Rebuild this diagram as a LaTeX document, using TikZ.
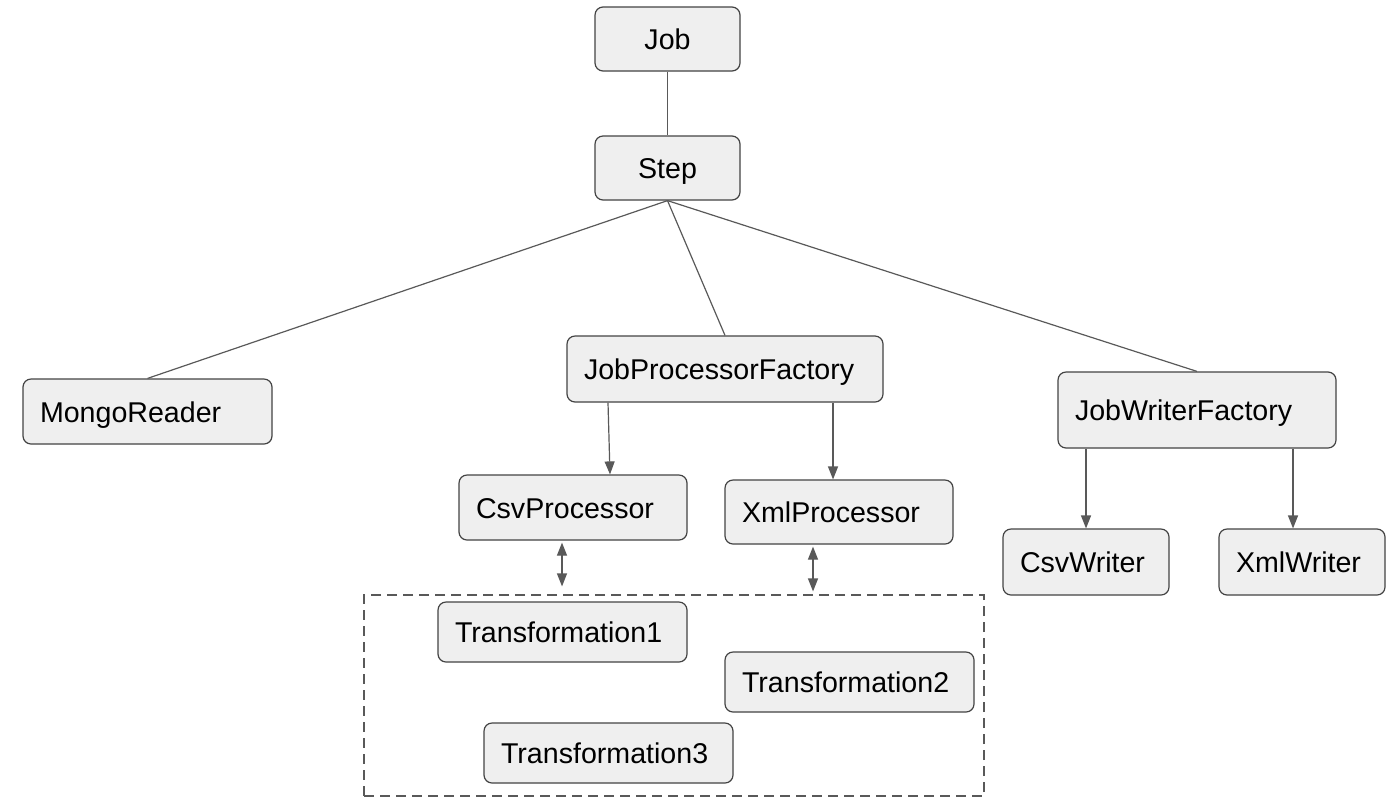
\documentclass[tikz,border=0pt]{standalone}
\usepackage{fontspec}
\setmainfont{Liberation Sans}
\usetikzlibrary{calc,arrows.meta}
\definecolor{boxfill}{HTML}{EFEFEF}
\definecolor{boxline}{HTML}{434343}
\definecolor{linkgray}{HTML}{595959}

\begin{document}
\begin{tikzpicture}[x=0.5pt,y=-0.5pt,>={Triangle[length=6.5pt,width=5pt]},
  box/.style={draw=boxline,fill=boxfill,rounded corners=4pt,line width=0.6pt,inner xsep=8.5pt,inner ysep=0pt,align=left,text height=1.08em,text depth=0pt,font=\fontsize{14.3}{17}\selectfont},
  link/.style={draw=linkgray,line width=0.6pt}]
  \useasboundingbox (0,0) rectangle (1400,810);
  % job and step
  \node[box,align=center,text width=55.5pt,minimum height=32pt] (job) at (667.5,39) {Job};
  \node[box,align=center,text width=55.5pt,minimum height=32pt] (step) at (667.5,168) {Step};
  % reader, processors, writers
  \node[box,text width=107.5pt,minimum height=32.5pt] (mongo) at (147.5,411.5) {MongoReader};
  \node[box,text width=141pt,minimum height=33pt] (jpf) at (725,369) {JobProcessorFactory};
  \node[box,text width=122pt,minimum height=38pt] (jwf) at (1197,410) {JobWriterFactory};
  \node[box,text width=97pt,minimum height=32.5pt] (csvp) at (573,507.5) {CsvProcessor};
  \node[box,text width=97pt,minimum height=32pt] (xmlp) at (839,512) {XmlProcessor};
  \node[box,text width=66pt,minimum height=33pt] (csvw) at (1086,562) {CsvWriter};
  \node[box,text width=66pt,minimum height=33pt] (xmlw) at (1302,562) {XmlWriter};
  % transformations
  \node[draw=linkgray,dashed,dash pattern=on 5pt off 3pt,line width=0.6pt,minimum width=310pt,minimum height=100.5pt,inner sep=0pt] (group) at (674,695.5) {};
  \node[box,text width=107.5pt,minimum height=30pt] (t1) at (562.5,632) {Transformation1};
  \node[box,text width=107.5pt,minimum height=30pt] (t2) at (849.5,682) {Transformation2};
  \node[box,text width=107.5pt,minimum height=30pt] (t3) at (608.5,753) {Transformation3};

  \draw[link] (job) -- (step);
  \draw[link] (step.south) -- (mongo.north);
  \draw[link] (step.south) -- (jpf.north);
  \draw[link] (step.south) -- (jwf.north);
  \draw[link,->] ($(jpf.south)+(-117,0)$) -- ($(csvp.north)+(37,0)$);
  \draw[link,->] ($(jpf.south)+(108,0)$) coordinate (jx) -- (jx |- xmlp.north);
  \draw[link,->] ($(jwf.south)+(-111,0)$) -- (csvw.north);
  \draw[link,->] ($(jwf.south)+(96,0)$) coordinate (jw) -- (jw |- xmlw.north);
  \draw[link,<->] ($(csvp.south)+(-11,2)$) -- ($(group.north)+(-112,-8)$);
  \draw[link,<->] ($(xmlp.south)+(-26,2)$) -- ($(group.north)+(139,-3)$);
\end{tikzpicture}
\end{document}
